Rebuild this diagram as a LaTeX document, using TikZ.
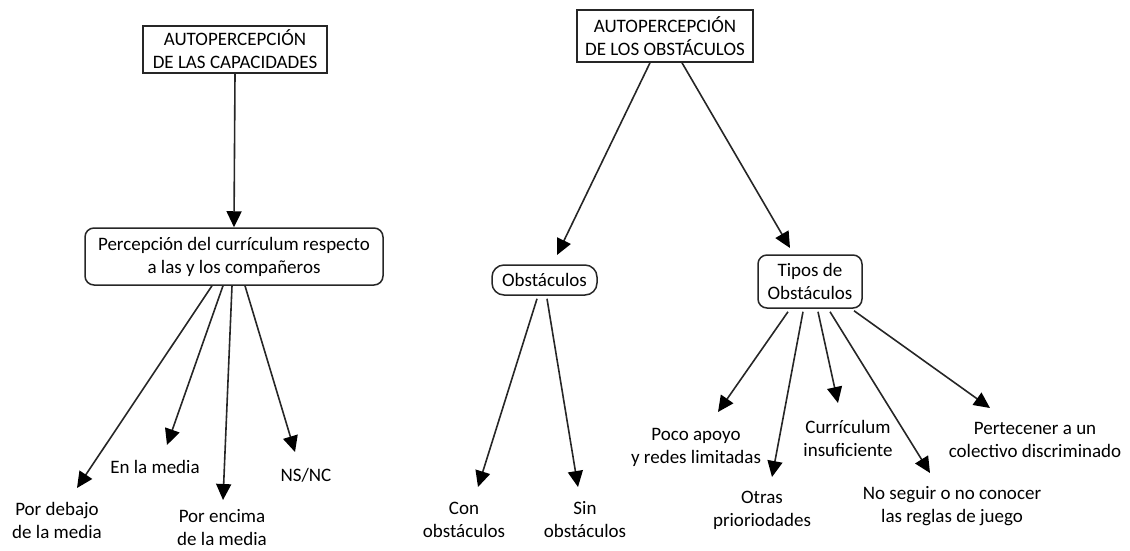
\documentclass[tikz,border=0pt]{standalone}
\usepackage{fontspec}
\setmainfont{Carlito}
\usetikzlibrary{arrows.meta}

\tikzset{
  lbl/.style={align=center, inner sep=1pt, font=\fontsize{19}{23}\selectfont, text=black},
  sqbox/.style={lbl, draw=black!85, line width=1.6pt, inner sep=0pt},
  rbox/.style={lbl, draw=black!85, line width=1.5pt, rounded corners=9pt, inner sep=0pt},
  arr/.style={draw=black!85, line width=1.6pt, -{Triangle[length=16pt,width=15pt,color=black]}}
}

\begin{document}
\begin{tikzpicture}[x=1pt,y=-1pt]
  \useasboundingbox (0,0) rectangle (1130,550);

  % top boxes
  \node[sqbox, minimum width=184pt, minimum height=47pt] (cap) at (235,49.5)
    {AUTOPERCEPCIÓN\\DE LAS CAPACIDADES};
  \node[sqbox, minimum width=176pt, minimum height=52pt] (obs) at (665,36)
    {AUTOPERCEPCIÓN\\DE LOS OBSTÁCULOS};

  % second level
  \node[rbox, minimum width=298pt, minimum height=57pt] (perc) at (234,256.5)
    {Percepción del currículum respecto\\a las y los compañeros};
  \node[rbox, rounded corners=12pt, minimum width=105pt, minimum height=30pt] (obst) at (544.5,280)
    {Obstáculos};
  \node[rbox, minimum width=104pt, minimum height=53pt] (tipos) at (810,281.5)
    {Tipos de\\Obstáculos};

  % leaf labels
  \node[lbl] (debajo) at (57,520) {Por debajo\\de la media};
  \node[lbl] (enla) at (155,467) {En la media};
  \node[lbl] (encima) at (222,527.5) {Por encima\\de la media};
  \node[lbl] (nsnc) at (306,475) {NS/NC};

  \node[lbl] (con) at (464,520) {Con\\obstáculos};
  \node[lbl] (sin) at (585,520) {Sin\\obstáculos};

  \node[lbl] (poco) at (696,447) {Poco apoyo\\y redes limitadas};
  \node[lbl] (otras) at (762,510) {Otras\\prioriodades};
  \node[lbl] (curr) at (848,438) {Currículum\\insuficiente};
  \node[lbl] (reglas) at (952,506) {No seguir o no conocer\\las reglas de juego};
  \node[lbl] (colect) at (1035,440) {Pertecener a un\\colectivo discriminado};

  % arrow end points
  \coordinate (tDebajo) at (77,488);
  \coordinate (tEnla) at (167,445);
  \coordinate (tEncima) at (223,500);
  \coordinate (tNsnc) at (295,452);
  \coordinate (tCon) at (478,487);
  \coordinate (tSin) at (578,487);
  \coordinate (tPoco) at (718,412);
  \coordinate (tOtras) at (772,477);
  \coordinate (tCurr) at (838,403);
  \coordinate (tReglas) at (930,473);
  \coordinate (tColect) at (990,408);
  \coordinate (tObst) at (557,255);
  \coordinate (tTipos) at (790,248);

  % connectors
  \draw[arr] (cap.south) -- (perc.north);

  \draw[arr] ([xshift=-15pt]obs.south) -- (tObst);
  \draw[arr] ([xshift=17pt]obs.south) -- (tTipos);

  \draw[arr] ([xshift=-22pt]perc.south) -- (tDebajo);
  \draw[arr] ([xshift=-11pt]perc.south) -- (tEnla);
  \draw[arr] ([xshift=-2pt]perc.south) -- (tEncima);
  \draw[arr] ([xshift=11pt]perc.south) -- (tNsnc);

  \draw[arr] ([xshift=-7.5pt,yshift=-3pt]obst.south) -- (tCon);
  \draw[arr] ([xshift=2.5pt,yshift=-3pt]obst.south) -- (tSin);

  \draw[arr] ([xshift=-22pt,yshift=-3pt]tipos.south) -- (tPoco);
  \draw[arr] ([xshift=-7pt,yshift=-3pt]tipos.south) -- (tOtras);
  \draw[arr] ([xshift=8pt,yshift=-3pt]tipos.south) -- (tCurr);
  \draw[arr] ([xshift=20pt,yshift=-3pt]tipos.south) -- (tReglas);
  \draw[arr] ([xshift=44pt,yshift=-2pt]tipos.south) -- (tColect);
\end{tikzpicture}
\end{document}
